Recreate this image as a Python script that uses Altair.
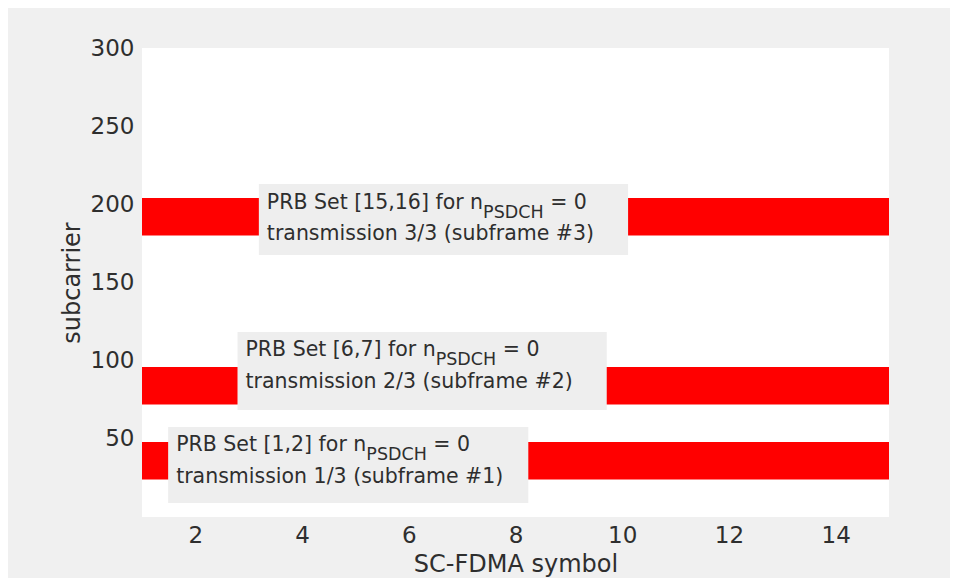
import altair as alt
import pandas as pd

# ---- data ----
band_x_start = [1, 1, 1]
band_x_end = [15, 15, 15]
band_y_low = [24, 72, 180]
band_y_high = [48, 96, 204]

# annotation boxes (data coordinates)
box_x1 = [1.49, 2.79, 3.19]
box_x2 = [8.24, 9.71, 10.11]
box_y_top = [57.6, 118.4, 213.0]
box_y_bottom = [9.0, 68.4, 167.6]
line1_prefix = ["PRB Set [1,2] for n", "PRB Set [6,7] for n", "PRB Set [15,16] for n"]
line1_sub = ["PSDCH", "PSDCH", "PSDCH"]
line1_suffix = ["= 0", "= 0", "= 0"]
line2_text = [
    "transmission 1/3 (subframe #1)",
    "transmission 2/3 (subframe #2)",
    "transmission 3/3 (subframe #3)",
]

x_ticks = [2, 4, 6, 8, 10, 12, 14]
y_ticks = [50, 100, 150, 200, 250, 300]

# ---- layout ----
W, H = 747, 469
X_DOMAIN = [1, 15]
Y_DOMAIN = [0, 300]
PX_PER_X = W / (X_DOMAIN[1] - X_DOMAIN[0])
F_MAIN = 20.5
F_SUB = 17.5
FONT = "DejaVu Sans"
TXT = "#2e2e2e"

# DejaVu Sans advance widths (em)
ADV = {
    " ": 0.318, "P": 0.603, "R": 0.695, "B": 0.686, "S": 0.635, "e": 0.615,
    "t": 0.392, "[": 0.390, "]": 0.390, ",": 0.318, "f": 0.352, "o": 0.612,
    "r": 0.411, "n": 0.634, "D": 0.770, "C": 0.698, "H": 0.752, "=": 0.838,
}
for d in "0123456789":
    ADV[d] = 0.636


def text_width(s, size):
    return sum(ADV.get(c, 0.6) for c in s) * size


bands = pd.DataFrame({"x": band_x_start, "x2": band_x_end,
                      "y": band_y_low, "y2": band_y_high})

ann = pd.DataFrame({
    "x1": box_x1, "x2": box_x2, "ytop": box_y_top, "ybot": box_y_bottom,
    "pre": line1_prefix, "sub": line1_sub, "suf": line1_suffix, "l2": line2_text,
})
ann["sub_x"] = [a + text_width(p, F_MAIN) / PX_PER_X for a, p in zip(ann.x1, ann.pre)]
ann["suf_x"] = [a + (text_width(s, F_SUB) + text_width(" ", F_MAIN)) / PX_PER_X
                for a, s in zip(ann.sub_x, ann["sub"])]

xs = alt.Scale(domain=X_DOMAIN, nice=False, zero=False)
ys = alt.Scale(domain=Y_DOMAIN, nice=False, zero=False)

x_axis = alt.Axis(values=x_ticks, title="SC-FDMA symbol", domain=False, ticks=False,
                  grid=False, labelFontSize=23, titleFontSize=24, labelPadding=7,
                  titlePadding=5, labelFont=FONT, titleFont=FONT, labelColor=TXT,
                  titleColor=TXT, titleFontWeight="normal")
y_axis = alt.Axis(values=y_ticks, title="subcarrier", domain=False, ticks=False,
                  grid=False, labelFontSize=23, titleFontSize=24, labelPadding=8,
                  titlePadding=6, labelFont=FONT, titleFont=FONT, labelColor=TXT,
                  titleColor=TXT, titleFontWeight="normal")

band_layer = alt.Chart(bands).mark_rect(color="#ff0000").encode(
    x=alt.X("x:Q", scale=xs, axis=x_axis),
    x2="x2:Q",
    y=alt.Y("y:Q", scale=ys, axis=y_axis),
    y2="y2:Q",
)

box_layer = alt.Chart(ann).mark_rect(color="#eeeeee").encode(
    x="x1:Q", x2="x2:Q", y="ytop:Q", y2="ybot:Q"
)

base_text = dict(font=FONT, color=TXT, align="left", baseline="alphabetic")

pre_layer = alt.Chart(ann).mark_text(fontSize=F_MAIN, dx=8, dy=24.5, **base_text).encode(
    x="x1:Q", y="ytop:Q", text="pre:N"
)
sub_layer = alt.Chart(ann).mark_text(fontSize=F_SUB, dx=8, dy=33.5, **base_text).encode(
    x="sub_x:Q", y="ytop:Q", text="sub:N"
)
suf_layer = alt.Chart(ann).mark_text(fontSize=F_MAIN, dx=8, dy=24.5, **base_text).encode(
    x="suf_x:Q", y="ytop:Q", text="suf:N"
)
l2_layer = alt.Chart(ann).mark_text(fontSize=F_MAIN, dx=8, dy=56, **base_text).encode(
    x="x1:Q", y="ytop:Q", text="l2:N"
)

chart = alt.layer(band_layer, box_layer, pre_layer, sub_layer, suf_layer, l2_layer).properties(
    width=W, height=H,
    autosize=alt.AutoSizeParams(type="none"),
    padding={"left": 134, "top": 40, "right": 61, "bottom": 61},
    background="#f0f0f0",
).configure_view(stroke=None, fill="white")

chart.save("out.html", embed_options={"renderer": "svg", "actions": False})
